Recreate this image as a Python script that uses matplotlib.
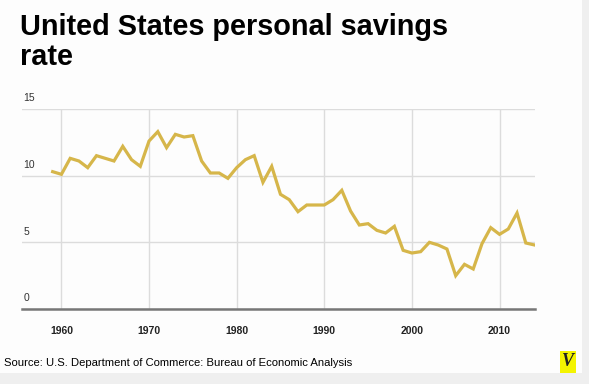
import numpy as np
from matplotlib import pyplot as plt
from matplotlib.patches import Rectangle

# data (percent of disposable income)
years = list(range(1959, 2015))
savings_rate = [10.3, 10.1, 11.3, 11.1, 10.6, 11.5, 11.3, 11.1, 12.2, 11.2,
                10.7, 12.6, 13.3, 12.1, 13.1, 12.9, 13.0, 11.1, 10.2, 10.2,
                9.8, 10.6, 11.2, 11.5, 9.5, 10.7, 8.6, 8.2, 7.3, 7.8,
                7.8, 7.8, 8.2, 8.9, 7.35, 6.3, 6.4, 5.9, 5.7, 6.2,
                4.4, 4.2, 4.3, 5.0, 4.8, 4.5, 2.5, 3.35, 3.0, 4.9,
                6.1, 5.6, 6.0, 7.2, 4.95, 4.8]
x_ticks = [1960, 1970, 1980, 1990, 2000, 2010]
y_ticks = [0, 5, 10, 15]

title = "United States personal savings\nrate"
source = "Source: U.S. Department of Commerce: Bureau of Economic Analysis"

plt.rcParams['font.family'] = ['Liberation Sans', 'DejaVu Sans']

W, H = 589, 384
fig = plt.figure(figsize=[W / 100, H / 100], dpi=100)
fig.patch.set_facecolor('#fdfdfd')

# grey frame strips on the right and bottom
fig.patches.append(Rectangle((582 / W, 0), 1, 1, transform=fig.transFigure,
                             facecolor='#efefef', edgecolor='none', zorder=0))
fig.patches.append(Rectangle((0, 0), 1, (H - 373) / H, transform=fig.transFigure,
                             facecolor='#efefef', edgecolor='none', zorder=0))

ax = fig.add_axes([22 / W, (H - 309) / H, (535 - 22) / W, 200 / H])
ax.set_facecolor('none')
ax.plot(years, savings_rate, color='#d6b64a', lw=2.3, solid_joinstyle='miter', zorder=3)

ax.set_xlim(1955.5, 2014.05)
ax.set_ylim(0, 15)
ax.set_xticks(x_ticks)
ax.set_yticks(y_ticks)
ax.grid(color='#dcdcdc', lw=1)
ax.set_axisbelow(True)
for s in ['top', 'right', 'left']:
    ax.spines[s].set_visible(False)
ax.spines['bottom'].set_color('#777777')
ax.spines['bottom'].set_linewidth(1.8)
ax.tick_params(axis='both', length=0)
ax.set_yticklabels([])
ax.set_xticklabels([str(t) for t in x_ticks], fontsize=7.5, fontweight='bold', color='#222222')
ax.tick_params(axis='x', pad=12)

# y labels sit above their gridlines at the left edge
for t in y_ticks:
    ax.annotate(str(t), xy=(0, t), xycoords=('axes fraction', 'data'),
                xytext=(1, 4), textcoords='offset points',
                ha='left', va='bottom', fontsize=7.5, color='#333333')

fig.text(20 / W, 1 - 65 / H, title, ha='left', va='baseline', fontsize=20.8,
         fontweight='bold', color='black', linespacing=1.07)
fig.text(4 / W, 1 - 363 / H, source, ha='left', va='center', fontsize=8.1, color='black')

# Vox-style logo
fig.text(568 / W, 1 - 362 / H, 'V', ha='center', va='center', fontsize=13,
         fontweight='bold', fontstyle='italic', family='Liberation Serif', color='#222222',
         bbox=dict(boxstyle='square,pad=0.12', facecolor='#f4f400', edgecolor='none'))

fig.savefig('out.png', dpi=100, facecolor=fig.get_facecolor())
